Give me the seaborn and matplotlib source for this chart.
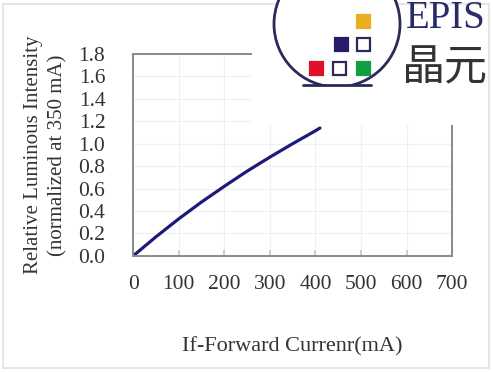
import numpy as np
import pandas as pd
import matplotlib
matplotlib.use("Agg")
import matplotlib.pyplot as plt
import matplotlib.patches as mpatches
import seaborn as sns

# values
current_ma = [0, 25, 50, 100, 150, 200, 250, 300, 350, 400, 410]
rel_intensity = [0.0, 0.085, 0.17, 0.33, 0.48, 0.62, 0.755, 0.88, 1.0, 1.115, 1.14]
x_ticks = [0, 100, 200, 300, 400, 500, 600, 700]
y_ticks = [0.0, 0.2, 0.4, 0.6, 0.8, 1.0, 1.2, 1.4, 1.6, 1.8]

df = pd.DataFrame({"current": current_ma, "intensity": rel_intensity})

sns.set_theme(style="white")
plt.rcParams["font.family"] = ["Liberation Serif", "Noto Sans CJK SC", "DejaVu Sans"]

fig = plt.figure(figsize=(4.93, 3.72), dpi=100)
ax = fig.add_axes([0.27, 0.312, 0.647, 0.543])

sns.lineplot(data=df, x="current", y="intensity", ax=ax,
             color="#1c1c78", linewidth=2.3)

ax.set_xlim(0, 700)
ax.set_ylim(0, 1.8)
ax.set_xticks(x_ticks)
ax.set_yticks(y_ticks)
ax.set_xticklabels([str(t) for t in x_ticks])
ax.set_yticklabels([f"{t:.1f}" for t in y_ticks])
ax.grid(True, color="#f0f0f0", linewidth=0.8)
ax.tick_params(axis="x", direction="in", length=4, color="#c8c8c8",
               pad=14, labelsize=15.5, labelcolor="#333333", bottom=True)
ax.tick_params(axis="y", length=0, pad=20, labelsize=15.5, labelcolor="#333333")
for s in ax.spines.values():
    s.set_color("#8a8a8a")
    s.set_linewidth(1.4)

ax.set_xlabel("If-Forward Currenr(mA)", fontsize=16, color="#333333", labelpad=31)
ax.set_ylabel("Relative Luminous Intensity\n(normalized at 350 mA)",
              fontsize=15, color="#333333", labelpad=8, linespacing=1.35)

# logo overlay in pixel coordinates
ov = fig.add_axes([0, 0, 1, 1], zorder=5)
ov.set_xlim(0, 493)
ov.set_ylim(372, 0)
ov.axis("off")
ov.patch.set_alpha(0)
ov.add_patch(mpatches.Rectangle((252, 0), 241, 125, facecolor="white", edgecolor="none"))
ov.add_patch(mpatches.Rectangle((3, 4), 486, 364, facecolor="none",
                                edgecolor="#e2e2e2", linewidth=1.2))
circ = mpatches.Circle((337, 24), 63, facecolor="white", edgecolor="#2a2a5a", linewidth=2)
ov.add_patch(circ)
clip = mpatches.Rectangle((270, -50), 140, 135, transform=ov.transData)
circ.set_clip_path(clip)
ov.plot([303, 371], [85, 85], color="#2a2a5a", linewidth=2)
sq = [(357, 15, "#e8b020", True), (335, 38, "#2a1a6a", True), (357, 38, "#2a2a5a", False),
      (310, 62, "#e0102a", True), (333, 62, "#2a2a5a", False), (357, 62, "#10a040", True)]
for x, y, c, filled in sq:
    ov.add_patch(mpatches.Rectangle((x, y), 13, 13, facecolor=c if filled else "white",
                                    edgecolor=c, linewidth=1.6))
ov.text(406, 18, "EPIS", fontsize=28, color="#2a2a6a", va="center", ha="left")
ov.text(401, 68, "晶元", fontsize=31, color="#333333", va="center", ha="left",
        family=["Noto Sans CJK SC", "DejaVu Sans"])

fig.savefig("out.png", dpi=100)
